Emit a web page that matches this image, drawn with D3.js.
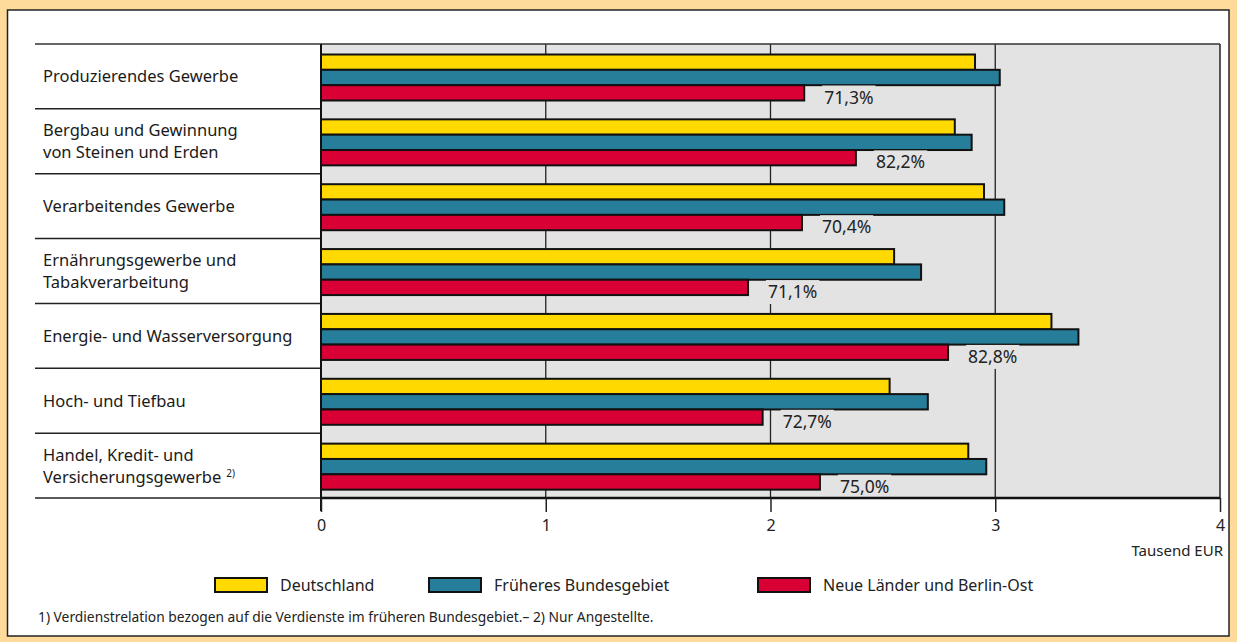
<!DOCTYPE html>
<html><head><meta charset="utf-8">
<script src="https://cdn.jsdelivr.net/npm/d3@7"></script>
<style>html,body{margin:0;padding:0;background:#FFDB9B;}svg{display:block;font-family:"Noto Sans",sans-serif;}</style>
</head><body>
<svg id="c" width="1237" height="642"></svg>
<script>
const categories = [
  ["Produzierendes Gewerbe"],
  ["Bergbau und Gewinnung", "von Steinen und Erden"],
  ["Verarbeitendes Gewerbe"],
  ["Ernährungsgewerbe und", "Tabakverarbeitung"],
  ["Energie- und Wasserversorgung"],
  ["Hoch- und Tiefbau"],
  ["Handel, Kredit- und", "Versicherungsgewerbe"]
];
const footMarks = ["", "", "", "", "", "", "2)"];
const seriesNames = ["Deutschland", "Früheres Bundesgebiet", "Neue Länder und Berlin-Ost"];
const deutschland = [2.91, 2.82, 2.95, 2.55, 3.25, 2.53, 2.88];
const frueheres   = [3.02, 2.895, 3.04, 2.67, 3.37, 2.70, 2.96];
const neue        = [2.15, 2.38, 2.14, 1.90, 2.79, 1.965, 2.22];
const relation    = ["71,3%", "82,2%", "70,4%", "71,1%", "82,8%", "72,7%", "75,0%"];
const xTicks = [0, 1, 2, 3, 4];
const colors = ["#FFD900", "#277E9B", "#D80034"];

const svg = d3.select("#c");
// outer panel
svg.append("rect").attr("x", 7.5).attr("y", 10).attr("width", 1221.5).attr("height", 626)
  .attr("fill", "#fff").attr("stroke", "#222").attr("stroke-width", 1.5);

const x0 = 321, x1 = 1220, yTop = 44, yBot = 498;
const x = d3.scaleLinear().domain([0, 4]).range([x0, x1]);
const y = d3.scaleBand().domain(d3.range(categories.length)).range([yTop, yBot]).padding(0);
const yi = d3.scaleBand().domain([0, 1, 2]).range([10.5, 56.5]).padding(0);

// plot background
svg.append("rect").attr("x", x0).attr("y", yTop).attr("width", x1 - x0).attr("height", yBot - yTop)
  .attr("fill", "#E3E3E3");
// gridlines
svg.append("g").selectAll("line").data([1, 2, 3]).join("line")
  .attr("x1", d => x(d)).attr("x2", d => x(d)).attr("y1", yTop).attr("y2", yBot)
  .attr("stroke", "#222").attr("stroke-width", 1.3);
// right & top border
svg.append("line").attr("x1", x1).attr("x2", x1).attr("y1", yTop).attr("y2", yBot).attr("stroke", "#222").attr("stroke-width", 1.5);
svg.append("line").attr("x1", 35).attr("x2", x1).attr("y1", yTop).attr("y2", yTop).attr("stroke", "#333").attr("stroke-width", 1.5);

// category separator lines in label column
svg.append("g").selectAll("line").data(d3.range(1, categories.length + 1)).join("line")
  .attr("x1", 35).attr("x2", x0).attr("y1", d => d === categories.length ? yBot : y(d)).attr("y2", d => d === categories.length ? yBot : y(d))
  .attr("stroke", "#222").attr("stroke-width", 1.5);

const series = [deutschland, frueheres, neue];
const groups = svg.append("g").selectAll("g").data(categories).join("g")
  .attr("transform", (d, i) => `translate(0,${y(i)})`);

groups.each(function(d, i) {
  const g = d3.select(this);
  series.forEach((vals, s) => {
    g.append("rect").attr("x", x(0)).attr("y", yi(s)).attr("width", x(vals[i]) - x(0)).attr("height", yi.bandwidth())
      .attr("fill", colors[s]).attr("stroke", "#111").attr("stroke-width", 2);
  });
  // relation label
  const lx = x(neue[i]) + 20, ly = yi(2) + yi.bandwidth() + 3;
  const t = g.append("text").attr("x", lx).attr("y", ly).attr("font-size", 17.5).attr("fill", "#222").text(relation[i]);
  const bb = t.node().getBBox();
  g.insert("rect", "text").attr("x", bb.x - 2).attr("y", bb.y + 1).attr("width", bb.width + 4).attr("height", bb.height)
    .attr("fill", "#E3E3E3");
  // category label
  const lines = d;
  const cy = y.bandwidth() / 2;
  const lh = 22;
  lines.forEach((ln, k) => {
    const tt = g.append("text").attr("x", 43).attr("y", cy + (k - (lines.length - 1) / 2) * lh).attr("dy", "0.36em")
      .attr("font-size", 16.5).attr("fill", "#1a1a1a").text(ln);
    if (k === lines.length - 1 && footMarks[i]) {
      tt.append("tspan").attr("dx", 5).attr("dy", -6).attr("font-size", 10).text(footMarks[i]);
    }
  });
});

// left axis line
svg.append("line").attr("x1", x0).attr("x2", x0).attr("y1", yTop).attr("y2", yBot + 13).attr("stroke", "#111").attr("stroke-width", 2);
// bottom axis
const ax = svg.append("g").attr("transform", `translate(0,${yBot})`)
  .call(d3.axisBottom(x).tickValues(xTicks).tickSize(14).tickPadding(8).tickFormat(d3.format("d")));
ax.select(".domain").attr("stroke", "#111").attr("stroke-width", 2.5).attr("d", `M${x0},0H${x1}`);
ax.selectAll(".tick line").attr("stroke", "#222").attr("stroke-width", 1.5);
ax.selectAll(".tick text").attr("font-size", 16).attr("fill", "#222").attr("font-family", "Noto Sans");
svg.append("text").attr("x", 1223).attr("y", 556).attr("text-anchor", "end").attr("font-size", 15).attr("fill", "#222").text("Tausend EUR");

// legend
const legX = [215, 429, 758];
const leg = svg.append("g").selectAll("g").data(seriesNames).join("g")
  .attr("transform", (d, i) => `translate(${legX[i]},578)`);
leg.append("rect").attr("width", 52).attr("height", 14).attr("fill", (d, i) => colors[i]).attr("stroke", "#111").attr("stroke-width", 2);
leg.append("text").attr("x", 65).attr("y", 7).attr("dy", "0.36em").attr("font-size", 16).attr("fill", "#222").text(d => d);

// footnote
svg.append("text").attr("x", 38).attr("y", 622).attr("font-size", 13.8).attr("fill", "#222")
  .text("1) Verdienstrelation bezogen auf die Verdienste im früheren Bundesgebiet.– 2) Nur Angestellte.");
</script>
</body></html>
